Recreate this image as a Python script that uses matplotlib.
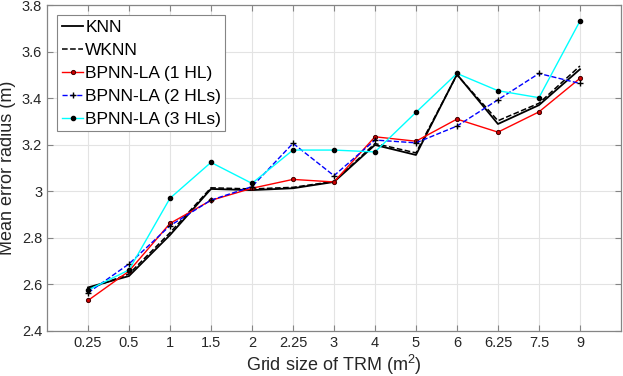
import matplotlib
matplotlib.use('Agg')
import matplotlib.pyplot as plt
import numpy as np

matplotlib.rcParams.update({
    'font.family': ['Liberation Sans', 'DejaVu Sans'],
    'mathtext.fontset': 'custom',
    'mathtext.rm': 'Liberation Sans',
    'mathtext.it': 'Liberation Sans',
    'font.size': 10,
})

grid_sizes = ['0.25', '0.5', '1', '1.5', '2', '2.25', '3', '4', '5', '6', '6.25', '7.5', '9']

knn = [2.587, 2.636, 2.812, 3.010, 3.005, 3.013, 3.040, 3.199, 3.156, 3.502, 3.289, 3.370, 3.524]
wknn = [2.580, 2.645, 2.822, 3.015, 3.010, 3.017, 3.042, 3.205, 3.165, 3.500, 3.303, 3.378, 3.538]
bp1 = [2.531, 2.657, 2.862, 2.961, 3.013, 3.051, 3.040, 3.234, 3.215, 3.310, 3.254, 3.341, 3.485]
bp2 = [2.564, 2.688, 2.852, 2.962, 3.020, 3.206, 3.067, 3.220, 3.208, 3.280, 3.393, 3.506, 3.463]
bp3 = [2.576, 2.662, 2.970, 3.124, 3.034, 3.177, 3.177, 3.169, 3.339, 3.506, 3.432, 3.402, 3.731]

x = np.arange(1, len(grid_sizes) + 1)

fig = plt.figure(figsize=(6.23, 3.76), dpi=100)
ax = fig.add_axes([0.0754, 0.1197, 0.9213, 0.867])

ax.plot(x, knn, '-', color='black', lw=1.3, label='KNN')
ax.plot(x, wknn, '--', color='black', lw=1.1, label='WKNN')
ax.plot(x, bp1, '-', color='red', lw=1.0, marker='o', ms=3,
        mfc='#cc0000', mec='#400000', mew=0.7, label='BPNN-LA (1 HL)')
ax.plot(x, bp2, '--', color='blue', lw=1.0, marker='+', ms=4.5,
        mec='black', mew=1.0, label='BPNN-LA (2 HLs)')
ax.plot(x, bp3, '-', color='cyan', lw=1.0, marker='o', ms=3,
        mfc='black', mec='black', label='BPNN-LA (3 HLs)')

ax.set_xlim(0, 14)
ax.set_ylim(2.4, 3.8)
ax.set_xticks(x)
ax.set_xticklabels(grid_sizes)
ax.set_yticks([2.4, 2.6, 2.8, 3.0, 3.2, 3.4, 3.6, 3.8])
ax.set_yticklabels(['2.4', '2.6', '2.8', '3', '3.2', '3.4', '3.6', '3.8'])

ax.grid(True, color='#e3e3e3', lw=0.8)
ax.set_axisbelow(True)
for s in ax.spines.values():
    s.set_color('#858585')
    s.set_linewidth(0.9)
ax.tick_params(direction='in', top=True, right=True, length=4,
               color='#858585', labelcolor='#262626', labelsize=10.5)

ax.set_xlabel(r'Grid size of TRM (m$^{2}$)', fontsize=13, color='#262626', labelpad=2)
ax.set_ylabel('Mean error radius (m)', fontsize=13, color='#262626', labelpad=4)

leg = ax.legend(loc='upper left', fontsize=12.5, handlelength=1.25, handletextpad=0.1,
                borderpad=0.25, labelspacing=0.45, fancybox=False, framealpha=1,
                borderaxespad=0.6)
leg.get_frame().set_edgecolor('#858585')
leg.get_frame().set_linewidth(0.8)

plt.savefig('out.png', dpi=100)
